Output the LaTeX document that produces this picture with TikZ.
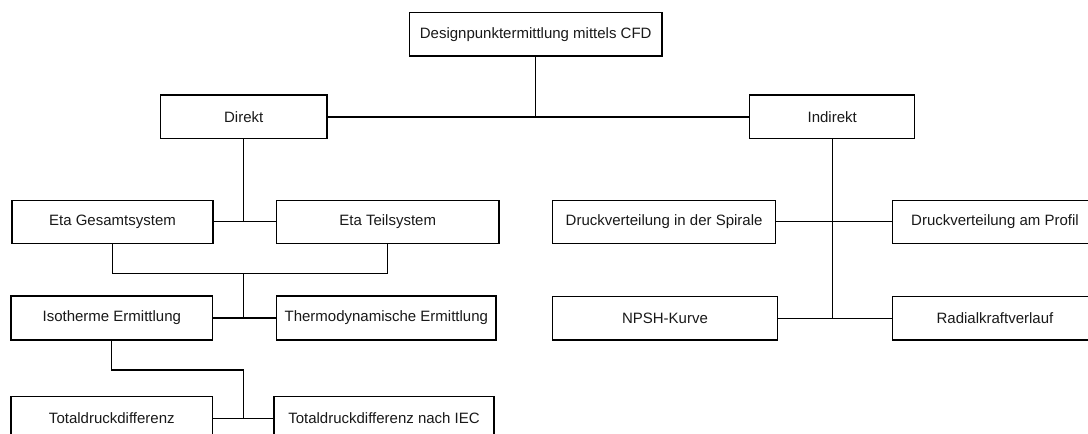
\documentclass[tikz,border=0pt]{standalone}
\usepackage{fontspec}
\setmainfont{Liberation Sans}
\begin{document}
\begin{tikzpicture}[x=1pt,y=-1pt,
  box/.style={draw=black, line width=1.2pt, fill=white, rectangle, inner sep=0pt,
              font=\fontsize{15}{18}\selectfont, text=black!90},
  conn/.style={draw=black, line width=1.2pt}]
\useasboundingbox (0,0) rectangle (1088,434);
% nodes
\node[box, minimum width=252.5pt, minimum height=43.7pt] (top) at (535.7,34.2) {Designpunktermittlung mittels CFD};
\node[box, minimum width=166.6pt, minimum height=43.7pt] (direkt) at (243.7,116.9) {Direkt};
\node[box, minimum width=165.2pt, minimum height=43.7pt] (indirekt) at (832.2,116.9) {Indirekt};
\node[box, minimum width=201pt, minimum height=43pt] (etag) at (112.5,221.8) {Eta Gesamtsystem};
\node[box, minimum width=222.6pt, minimum height=43pt] (etat) at (387.7,221.8) {Eta Teilsystem};
\node[box, minimum width=201.7pt, minimum height=44pt] (iso) at (111.8,318) {Isotherme Ermittlung};
\node[box, minimum width=219.3pt, minimum height=44pt] (thermo) at (386.3,318) {Thermodynamische Ermittlung};
\node[box, minimum width=201.7pt, minimum height=44pt] (total) at (111.8,418.3) {Totaldruckdifferenz};
\node[box, minimum width=220pt, minimum height=44pt] (totaliec) at (384,418.3) {Totaldruckdifferenz nach IEC};
\node[box, minimum width=222.8pt, minimum height=43pt] (spirale) at (664.1,221.8) {Druckverteilung in der Spirale};
\node[box, minimum width=205.4pt, minimum height=43pt] (profil) at (995,221.8) {Druckverteilung am Profil};
\node[box, minimum width=224.6pt, minimum height=43.3pt] (npsh) at (665,318.3) {NPSH-Kurve};
\node[box, minimum width=205.4pt, minimum height=43.3pt] (radial) at (995,318.3) {Radialkraftverlauf};
% helper coordinates
\coordinate (jd) at (243.2,221.8);
\coordinate (bus1) at (243.2,273.8);
\coordinate (ji) at (243.2,318);
\coordinate (bus2) at (243.2,370);
\coordinate (jt) at (243.2,418.3);
\coordinate (jn) at (832.2,318.3);
% connectors
\draw[conn] (top.south) -- (top |- direkt);
\draw[conn] (direkt.east) -- (indirekt.west);
\draw[conn] (direkt.south -| jd) -- (jd);
\draw[conn] (etag.east) -- (etat.west);
\draw[conn] (etag.south) -- (etag |- bus1) -- (etat |- bus1) -- (etat.south);
\draw[conn] (bus1) -- (ji);
\draw[conn] (iso.east) -- (thermo.west);
\draw[conn] (iso.south) -- (iso |- bus2) -- (bus2) -- (jt);
\draw[conn] (total.east) -- (totaliec.west);
\draw[conn] (indirekt.south) -- (jn);
\draw[conn] (spirale.east) -- (profil.west);
\draw[conn] (npsh.east) -- (radial.west);
\end{tikzpicture}
\end{document}
